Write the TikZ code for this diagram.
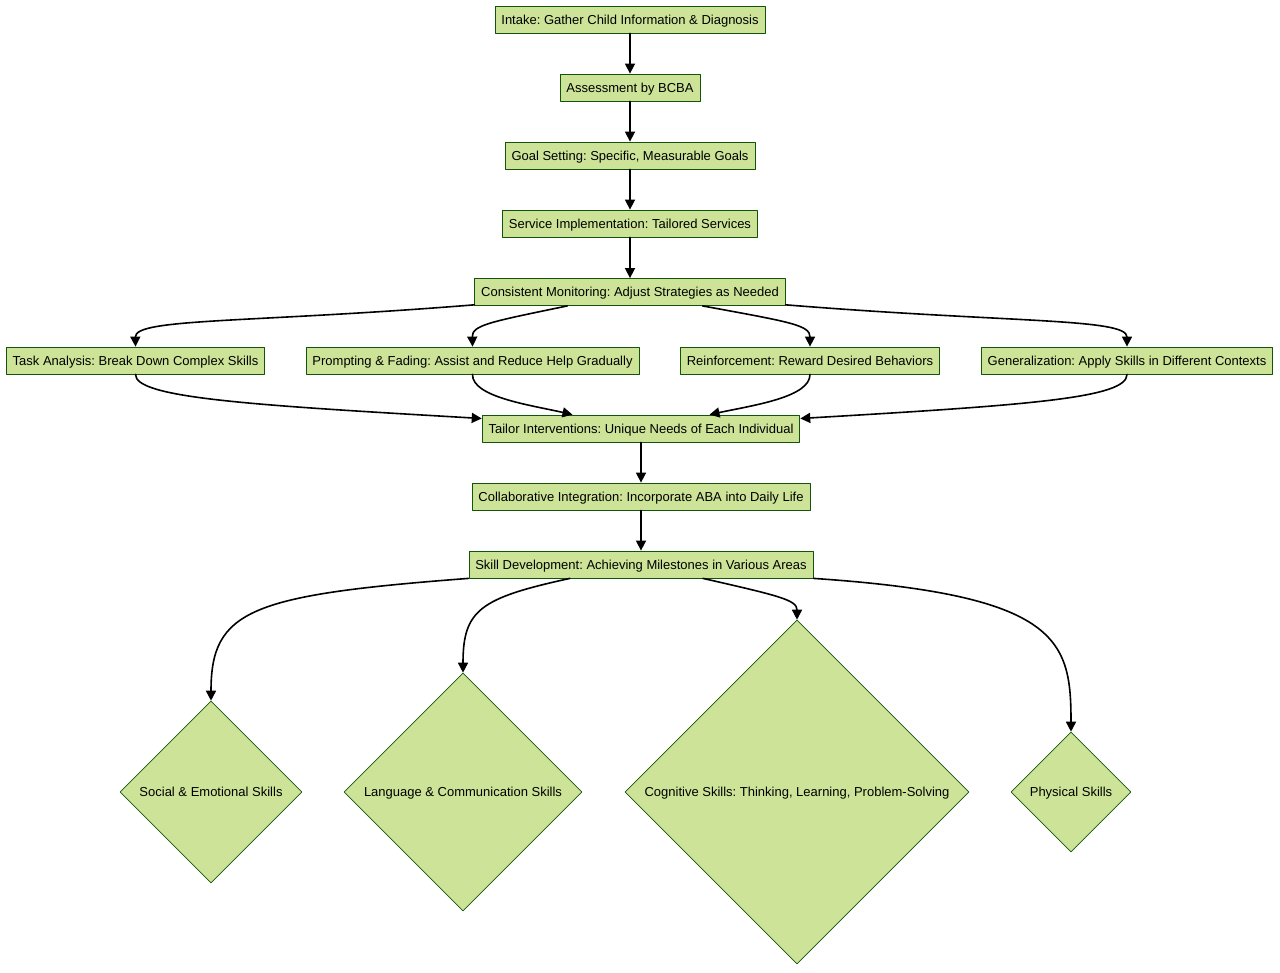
\documentclass[tikz,border=0pt]{standalone}
\usepackage{fontspec}
\setmainfont{Liberation Sans}
\frenchspacing
\usetikzlibrary{arrows.meta,shapes.geometric}
\definecolor{boxfill}{HTML}{CDE498}
\definecolor{boxline}{HTML}{13540C}
\tikzset{
	stepbox/.style={draw=boxline, fill=boxfill, line width=0.6pt, rectangle, minimum height=20.25pt, inner xsep=4.8pt, inner ysep=0pt, text height=8.5pt, text depth=1.5pt},
	skillbox/.style={draw=boxline, fill=boxfill, line width=0.45pt, diamond, aspect=1, inner sep=0pt, text height=8.5pt, text depth=1.5pt},
	arr/.style={line width=1.2pt, -{Triangle[length=7.5pt, width=7.5pt]}}
}
\begin{document}
\begin{tikzpicture}[x=0.75pt, y=-0.75pt, font=\fontsize{9.75}{12}\selectfont, line join=round, line cap=round]
	\useasboundingbox (0,0) rectangle (1280,973);
	\node[stepbox] (intake) at (630, 19.5) {Intake: Gather Child Information \& Diagnosis};
	\node[stepbox] (assess) at (630, 87.5) {Assessment by BCBA};
	\node[stepbox] (goal) at (630, 155.5) {Goal Setting: Specific, Measurable Goals};
	\node[stepbox] (service) at (630, 223.5) {Service Implementation: Tailored Services};
	\node[stepbox] (monitor) at (630, 292) {Consistent Monitoring: Adjust Strategies as Needed};
	\node[stepbox] (task) at (135.5, 360.5) {Task Analysis: Break Down Complex Skills};
	\node[stepbox] (prompt) at (472.5, 360.5) {Prompting \& Fading: Assist and Reduce Help Gradually};
	\node[stepbox] (reinf) at (810, 360.5) {Reinforcement: Reward Desired Behaviors};
	\node[stepbox] (general) at (1127, 360.5) {Generalization: Apply Skills in Different Contexts};
	\node[stepbox] (tailor) at (641, 428.5) {Tailor Interventions: Unique Needs of Each Individual};
	\node[stepbox] (collab) at (641, 496.5) {Collaborative Integration: Incorporate ABA into Daily Life};
	\node[stepbox] (skill) at (641, 564.5) {Skill Development: Achieving Milestones in Various Areas};
	\node[skillbox, minimum size=136.5pt] (social) at (211, 792) {Social \& Emotional Skills};
	\node[skillbox, minimum size=178.5pt] (lang) at (463, 792) {Language \& Communication Skills};
	\node[skillbox, minimum size=258pt] (cogn) at (797, 792) {Cognitive Skills: Thinking, Learning, Problem-Solving};
	\node[skillbox, minimum size=90pt] (phys) at (1071, 792) {Physical Skills};

	\draw[arr] (intake) -- (assess);
	\draw[arr] (assess) -- (goal);
	\draw[arr] (goal) -- (service);
	\draw[arr] (service) -- (monitor);

	\draw[arr] ([yshift=0.8pt]monitor.south west) .. controls (250, 323) and (135, 318) .. (task.north);
	\draw[arr] ([xshift=-47pt]monitor.south) .. controls (490, 322) and (472, 325) .. (prompt.north);
	\draw[arr] ([xshift=54.4pt]monitor.south) .. controls (790, 322) and (810, 325) .. (reinf.north);
	\draw[arr] ([yshift=0.8pt]monitor.south east) .. controls (1010, 323) and (1127, 318) .. (general.north);

	\draw[arr] (task.south) .. controls (135, 398) and (250, 405) .. ([yshift=7.5pt]tailor.west);
	\draw[arr] (prompt.south) .. controls (472, 397) and (530, 405) .. ([xshift=-51.4pt]tailor.north);
	\draw[arr] (reinf.south) .. controls (810, 397) and (755, 405) .. ([xshift=51.4pt]tailor.north);
	\draw[arr] (general.south) .. controls (1127, 398) and (1030, 405) .. ([yshift=7.5pt]tailor.east);

	\draw[arr] (tailor) -- (collab);
	\draw[arr] (collab) -- (skill);

	\draw[arr] (skill.south west) .. controls (250, 595) and (211, 610) .. (social.north);
	\draw[arr] ([xshift=-53.3pt]skill.south) .. controls (480, 598) and (463, 610) .. (lang.north);
	\draw[arr] ([xshift=46.5pt]skill.south) .. controls (780, 596) and (797, 600) .. (cogn.north);
	\draw[arr] (skill.south east) .. controls (1060, 595) and (1071, 640) .. (phys.north);
\end{tikzpicture}
\end{document}
